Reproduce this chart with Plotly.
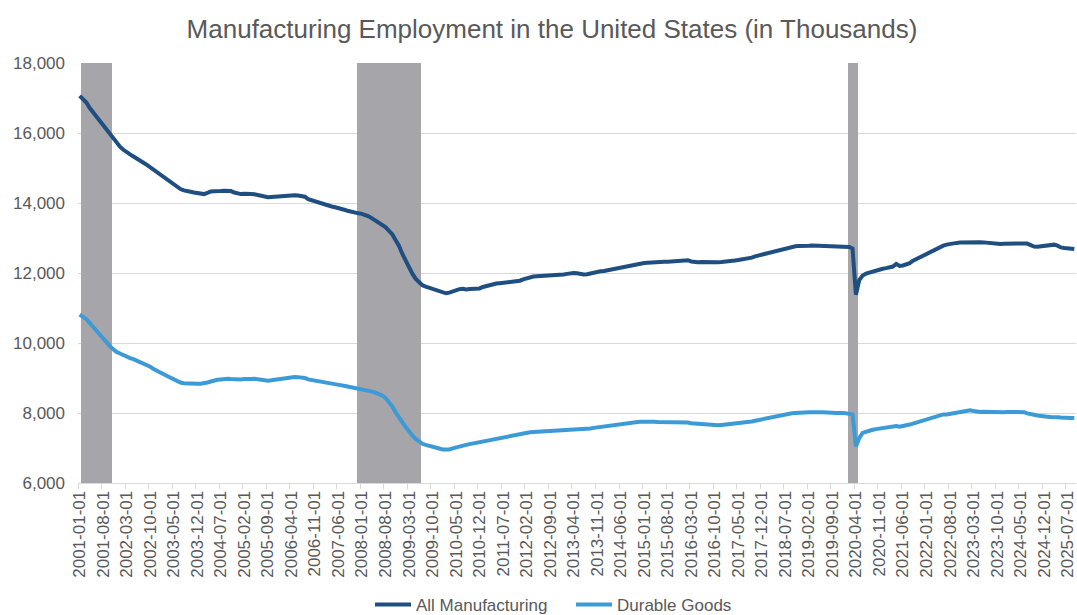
import pandas as pd
import plotly.graph_objects as go

# Monthly categories, January 2001 through September 2025
months = pd.date_range("2001-01-01", periods=297, freq="MS").strftime("%Y-%m-%d").tolist()

# All manufacturing employees, thousands (one row per year)
all_manufacturing = [
    17060, 16980, 16870, 16714, 16590, 16460, 16333, 16210, 16080, 15951, 15830, 15710,  # 2001
    15610, 15520, 15440, 15390, 15330, 15260, 15200, 15150, 15090, 15020, 14950, 14880,  # 2002
    14830, 14760, 14680, 14600, 14530, 14460, 14400, 14360, 14330, 14320, 14300, 14290,  # 2003
    14270, 14255, 14290, 14330, 14335, 14330, 14340, 14350, 14355, 14340, 14300, 14265,  # 2004
    14255, 14265, 14250, 14260, 14250, 14230, 14200, 14185, 14165, 14170, 14180, 14175,  # 2005
    14190, 14185, 14200, 14215, 14220, 14215, 14210, 14180, 14110, 14080, 14040, 14000,  # 2006
    13980, 13960, 13930, 13900, 13880, 13860, 13830, 13800, 13770, 13740, 13715, 13705,  # 2007
    13690, 13665, 13620, 13560, 13500, 13450, 13390, 13310, 13210, 13110, 12940, 12780,  # 2008
    12550, 12350, 12150, 11980, 11830, 11720, 11650, 11610, 11580, 11550, 11510, 11480,  # 2009
    11450, 11420, 11440, 11480, 11510, 11540, 11550, 11530, 11545, 11550, 11540, 11560,  # 2010
    11600, 11630, 11660, 11690, 11700, 11710, 11720, 11730, 11735, 11740, 11745, 11780,  # 2011
    11820, 11850, 11880, 11900, 11905, 11910, 11915, 11910, 11920, 11925, 11930, 11945,  # 2012
    11960, 11975, 11990, 12000, 11990, 11970, 11955, 11965, 11990, 12010, 12030, 12050,  # 2013
    12060, 12080, 12100, 12115, 12130, 12145, 12165, 12190, 12215, 12250, 12265, 12275,  # 2014
    12285, 12290, 12300, 12305, 12310, 12315, 12320, 12320, 12330, 12335, 12340, 12350,  # 2015
    12375, 12365, 12330, 12315, 12310, 12315, 12310, 12315, 12310, 12305, 12310, 12315,  # 2016
    12320, 12335, 12345, 12355, 12370, 12385, 12395, 12405, 12440, 12475, 12500, 12525,  # 2017
    12550, 12575, 12610, 12640, 12660, 12685, 12710, 12730, 12750, 12765, 12775, 12785,  # 2018
    12790, 12780, 12785, 12780, 12775, 12780, 12770, 12775, 12765, 12760, 12770, 12760,  # 2019
    12755, 12745, 12700, 11380, 11800, 11930, 11980, 12010, 12050, 12070, 12100, 12120,  # 2020
    12140, 12165, 12185, 12260, 12200, 12215, 12245, 12280, 12350, 12400, 12450, 12510,  # 2021
    12550, 12600, 12650, 12700, 12745, 12780, 12810, 12835, 12850, 12860, 12870, 12875,  # 2022
    12880, 12875, 12870, 12875, 12880, 12875, 12865, 12845, 12830, 12835, 12830, 12835,  # 2023
    12840, 12830, 12835, 12840, 12835, 12845, 12840, 12790, 12755, 12750, 12760, 12770,  # 2024
    12770, 12790, 12810, 12780, 12730, 12715, 12700, 12690, 12685,                       # 2025
]

# Durable goods employees, thousands
durable_goods = [
    10810, 10760, 10680, 10571, 10460, 10330, 10230, 10130, 10010, 9910, 9820, 9740,   # 2001
    9700, 9650, 9610, 9570, 9540, 9500, 9460, 9420, 9370, 9320, 9260, 9200,            # 2002
    9150, 9110, 9060, 9010, 8960, 8910, 8870, 8850, 8840, 8830, 8830, 8835,            # 2003
    8835, 8840, 8870, 8900, 8930, 8950, 8960, 8975, 8980, 8970, 8960, 8950,            # 2004
    8960, 8975, 8960, 8970, 8975, 8960, 8940, 8930, 8925, 8935, 8950, 8965,            # 2005
    8985, 8990, 9005, 9020, 9030, 9025, 9020, 9000, 8960, 8945, 8930, 8915,            # 2006
    8900, 8890, 8870, 8850, 8830, 8810, 8790, 8770, 8750, 8730, 8710, 8700,            # 2007
    8690, 8670, 8640, 8610, 8580, 8550, 8500, 8430, 8330, 8190, 8020, 7860,            # 2008
    7740, 7600, 7470, 7360, 7260, 7180, 7120, 7090, 7070, 7040, 7010, 6985,            # 2009
    6960, 6950, 6960, 6990, 7020, 7050, 7070, 7090, 7110, 7130, 7150, 7160,            # 2010
    7180, 7200, 7230, 7250, 7270, 7280, 7300, 7320, 7340, 7355, 7370, 7390,            # 2011
    7410, 7430, 7450, 7460, 7465, 7470, 7480, 7490, 7495, 7500, 7510, 7520,            # 2012
    7525, 7530, 7535, 7540, 7540, 7530, 7530, 7545, 7560, 7575, 7590, 7605,            # 2013
    7615, 7630, 7645, 7660, 7675, 7690, 7705, 7715, 7725, 7735, 7745, 7750,            # 2014
    7755, 7755, 7750, 7750, 7745, 7745, 7750, 7745, 7745, 7740, 7740, 7745,            # 2015
    7740, 7730, 7710, 7700, 7690, 7680, 7670, 7660, 7650, 7645, 7650, 7660,            # 2016
    7670, 7680, 7690, 7700, 7710, 7715, 7720, 7740, 7760, 7780, 7800, 7830,            # 2017
    7850, 7870, 7890, 7910, 7930, 7945, 7960, 7975, 7990, 8000, 8010, 8020,            # 2018
    8030, 8025, 8020, 8030, 8025, 8020, 8025, 8015, 8010, 8000, 8010, 8000,            # 2019
    7995, 7990, 7960, 7046, 7280, 7430, 7470, 7500, 7520, 7540, 7555, 7570,            # 2020
    7580, 7590, 7600, 7630, 7610, 7620, 7650, 7670, 7700, 7720, 7760, 7800,            # 2021
    7830, 7860, 7890, 7920, 7940, 7960, 7960, 7975, 7985, 8000, 8030, 8050,            # 2022
    8060, 8075, 8060, 8040, 8030, 8035, 8030, 8020, 8025, 8030, 8020, 8025,            # 2023
    8030, 8025, 8020, 8030, 8035, 8025, 7990, 7960, 7950, 7930, 7910, 7900,            # 2024
    7895, 7885, 7890, 7880, 7870, 7875, 7865, 7860, 7855,                              # 2025
]

# Recession periods (first and last month shaded)
recessions = [
    ("2001-02-01", "2001-10-01"),
    ("2007-12-01", "2009-06-01"),
    ("2020-02-01", "2020-04-01"),
]

y_min, y_max = 6000, 18000
y_ticks = [6000, 8000, 10000, 12000, 14000, 16000, 18000]

FONT = "Liberation Sans, Arial, sans-serif"
TEXT = "#595959"
GRID = "#d9d9d9"

# Months falling inside a recession become full-height shading columns
recession_months = []
for start, end in recessions:
    recession_months += months[months.index(start):months.index(end) + 1]

fig = go.Figure()
fig.add_trace(go.Scatter(
    x=months, y=all_manufacturing, name="All Manufacturing", mode="lines",
    line=dict(color="#1f4e80", width=4),
))
fig.add_trace(go.Scatter(
    x=months, y=durable_goods, name="Durable Goods", mode="lines",
    line=dict(color="#3c9bd7", width=4),
))
fig.add_trace(go.Bar(
    x=recession_months, y=[y_max - y_min] * len(recession_months), base=y_min,
    width=1, marker=dict(color="#a6a5a9", line_width=0),
    showlegend=False, hoverinfo="skip",
))

fig.update_layout(
    width=1077, height=615,
    margin=dict(l=78, r=1, t=63, b=132, autoexpand=False),
    paper_bgcolor="white", plot_bgcolor="white",
    font=dict(family=FONT, color=TEXT, size=17),
    bargap=0,
    title=dict(
        text="Manufacturing Employment in the United States (in Thousands)",
        x=552 / 1077, xanchor="center", xref="container",
        y=1 - 29 / 615, yanchor="middle", yref="container",
        font=dict(size=26, color=TEXT, family=FONT),
    ),
    legend=dict(
        orientation="h", x=370 / 1077, xanchor="left", xref="container",
        y=1 - 605 / 615, yanchor="middle", yref="container",
        font=dict(size=17, color=TEXT), itemwidth=36,
        entrywidth=150, entrywidthmode="pixels",
        traceorder="normal",
    ),
    showlegend=True,
)

fig.update_xaxes(
    type="category", categoryorder="array", categoryarray=months,
    range=[-0.5, len(months) - 0.5],
    tickmode="linear", tick0=0, dtick=7, tickson="boundaries",
    tickangle=-90, ticks="outside", ticklen=5, tickcolor=GRID,
    showline=True, linecolor=GRID, linewidth=1,
    showgrid=False, automargin=False,
    tickfont=dict(size=17, color=TEXT),
)
fig.update_yaxes(
    range=[y_min, y_max], tickvals=y_ticks, tickformat=",",
    showgrid=True, gridcolor=GRID, gridwidth=1,
    zeroline=False, showline=False, ticks="", automargin=False,
    ticklabelstandoff=12,
    tickfont=dict(size=17, color=TEXT),
)

fig.write_html("out.html")
